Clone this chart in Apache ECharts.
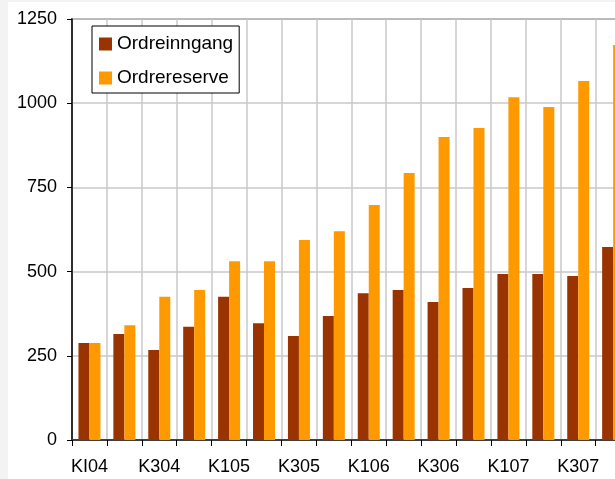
<!DOCTYPE html>
<html>
<head>
<meta charset="utf-8">
<script src="https://cdn.jsdelivr.net/npm/echarts@6/dist/echarts.min.js"></script>
<style>
html,body{margin:0;padding:0;width:615px;height:479px;overflow:hidden;background:#f3f3f3;}
#c{position:absolute;left:8px;top:2px;width:640px;height:477px;background:#fff;}
</style>
</head>
<body>
<div id="c"></div>
<script>
var categories = ['KI04','K204','K304','K404','K105','K205','K305','K405','K106','K206','K306','K406','K107','K207','K307','K407'];
var ordreinngang = [288, 315, 267, 336, 425, 347, 309, 368, 436, 445, 410, 451, 493, 493, 487, 573];
var ordrereserve = [288, 341, 425, 445, 531, 531, 594, 620, 698, 793, 900, 926, 1018, 989, 1066, 1173];
var yTicks = {min: 0, max: 1250, interval: 250};

var chart = echarts.init(document.getElementById('c'), null, {renderer: 'canvas'});
chart.setOption({
  animation: false,
  backgroundColor: '#fff',
  textStyle: {fontFamily: 'Liberation Sans, Arial, sans-serif'},
  grid: {left: 64, top: 17, right: 17.4, bottom: 39, show: true, borderColor: '#909090', borderWidth: 2, backgroundColor: 'transparent'},
  legend: {
    orient: 'vertical', left: 84, top: 24,
    backgroundColor: '#fff', borderColor: '#000', borderWidth: 1, borderRadius: 0,
    padding: [8, 6, 5, 7], itemGap: 14, itemWidth: 13, itemHeight: 13,
    icon: 'rect',
    textStyle: {fontSize: 19, color: '#000', lineHeight: 20, fontFamily: 'Liberation Sans, Arial, sans-serif'},
    data: ['Ordreinngang', 'Ordrereserve']
  },
  xAxis: {
    type: 'category', data: categories,
    axisLine: {lineStyle: {color: '#404040', width: 2}},
    axisTick: {show: true, interval: 0, length: 6, lineStyle: {color: '#000', width: 1}},
    axisLabel: {interval: 1, fontSize: 18, color: '#000', margin: 18},
    splitLine: {show: true, interval: 0, lineStyle: {color: '#c8c8c8', width: 1.5}}
  },
  yAxis: {
    type: 'value', min: yTicks.min, max: yTicks.max, interval: yTicks.interval,
    axisLine: {show: true, lineStyle: {color: '#000', width: 1.5}},
    axisTick: {show: true, length: 5, lineStyle: {color: '#000'}},
    axisLabel: {fontSize: 18, color: '#000', margin: 15, formatter: function (v) { return String(v); }},
    splitLine: {show: true, lineStyle: {color: '#c8c8c8', width: 1.5}}
  },
  series: [
    {name: 'Ordreinngang', type: 'bar', data: ordreinngang, itemStyle: {color: '#993300'}, barGap: '0%', barCategoryGap: '37%'},
    {name: 'Ordrereserve', type: 'bar', data: ordrereserve, itemStyle: {color: '#FF9900'}, barGap: '0%', barCategoryGap: '37%'}
  ]
});
</script>
</body>
</html>
